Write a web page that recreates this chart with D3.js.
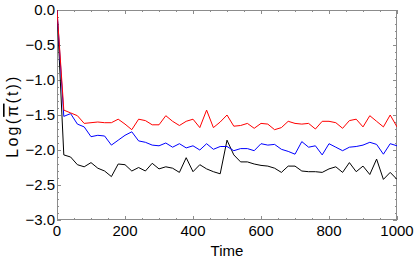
<!DOCTYPE html>
<html><head><meta charset="utf-8">
<script src="https://cdn.jsdelivr.net/npm/d3@7"></script>
<style>
body{margin:0;background:#fff}
svg{display:block}
text{font-family:"Liberation Sans",Arial,sans-serif;fill:#000}
</style>
</head><body>
<svg id="c" width="415" height="262"></svg>
<script>
const times = [0,20,40,60,80,100,120,140,160,180,200,220,240,260,280,300,320,340,360,380,400,
  420,440,460,480,500,520,540,560,580,600,620,640,660,680,700,720,740,760,780,800,
  820,840,860,880,900,920,940,960,980,1000];
const redVals = [0,-1.43,-1.47,-1.51,-1.62,-1.61,-1.60,-1.61,-1.61,-1.56,-1.63,-1.71,-1.56,-1.58,-1.64,-1.64,
  -1.51,-1.59,-1.65,-1.59,-1.56,-1.68,-1.43,-1.68,-1.60,-1.50,-1.66,-1.65,-1.62,-1.69,-1.62,
  -1.63,-1.71,-1.68,-1.59,-1.62,-1.63,-1.62,-1.70,-1.59,-1.59,-1.61,-1.69,-1.58,-1.56,-1.67,
  -1.51,-1.59,-1.67,-1.50,-1.67];
const blueVals = [0,-1.52,-1.48,-1.63,-1.67,-1.81,-1.79,-1.80,-1.93,-1.86,-1.79,-1.74,-1.87,-1.89,-1.93,-1.94,
  -1.90,-1.96,-1.91,-1.97,-1.94,-2.00,-1.91,-1.99,-1.95,-1.95,-2.01,-1.98,-1.98,-2.01,-1.91,
  -1.93,-1.92,-1.99,-2.02,-2.06,-1.88,-1.96,-1.94,-2.07,-1.91,-1.96,-2.01,-1.96,-1.95,-1.93,
  -1.89,-1.92,-2.06,-1.91,-1.94];
const blackVals = [0,-2.07,-2.10,-2.21,-2.24,-2.18,-2.26,-2.30,-2.38,-2.20,-2.21,-2.30,-2.25,-2.30,-2.19,-2.27,
  -2.24,-2.26,-2.32,-2.11,-2.31,-2.21,-2.27,-2.31,-2.34,-1.86,-2.07,-2.17,-2.17,-2.20,-2.22,
  -2.23,-2.26,-2.32,-2.23,-2.23,-2.30,-2.31,-2.31,-2.32,-2.27,-2.24,-2.32,-2.18,-2.31,-2.23,
  -2.35,-2.13,-2.42,-2.32,-2.42];
const xTicks = [0,200,400,600,800,1000];
const xTickLabels = ["0","200","400","600","800","1000"];
const yTicks = [0,-0.5,-1,-1.5,-2,-2.5,-3];
const yTickLabels = ["0.0","\u22120.5","\u22121.0","\u22121.5","\u22122.0","\u22122.5","\u22123.0"];
const seriesNames = ["black","blue","red"];
const seriesColors = ["#000000","#0000ff","#ff0000"];

const svg = d3.select("#c");
const L = 57, R = 397, T = 10, B = 220;
const x = d3.scaleLinear().domain([0,1000]).range([L,R]);
const y = d3.scaleLinear().domain([-3,0]).range([B,T]);
const frameCol = "#8c8c8c";

const xMinor = d3.range(0,1001,50);
const yMinor = d3.range(-30,1,1).map(d=>d/10);

function tickAxis(axisGen, transform, major, minor){
  const gMin = svg.append("g").attr("transform",transform)
    .call(axisGen.tickValues(minor).tickSize(2).tickFormat(""));
  gMin.select(".domain").remove();
  gMin.selectAll("line").attr("stroke",frameCol);
  const gMaj = svg.append("g").attr("transform",transform)
    .call(axisGen.tickValues(major).tickSize(4).tickFormat(""));
  gMaj.select(".domain").remove();
  gMaj.selectAll("line").attr("stroke",frameCol);
}
tickAxis(d3.axisTop(x), `translate(0,${B})`, xTicks, xMinor);
tickAxis(d3.axisBottom(x), `translate(0,${T})`, xTicks, xMinor);
tickAxis(d3.axisRight(y), `translate(${L},0)`, yTicks, yMinor);
tickAxis(d3.axisLeft(y), `translate(${R},0)`, yTicks, yMinor);

svg.append("rect").attr("x",L+0.5).attr("y",T+0.5).attr("width",R-L-1).attr("height",B-T-1)
  .attr("fill","none").attr("stroke",frameCol).attr("stroke-width",1);

svg.append("g").selectAll("text").data(xTicks).join("text")
  .attr("x",d=>x(d)).attr("y",B+16).attr("text-anchor","middle")
  .attr("font-size",15).text((d,i)=>xTickLabels[i]);
svg.append("g").selectAll("text").data(yTicks).join("text")
  .attr("x",L-2).attr("y",d=>y(d)+5.3).attr("text-anchor","end")
  .attr("font-size",15).text((d,i)=>yTickLabels[i]);

svg.append("text").attr("x",(L+R)/2).attr("y",256).attr("text-anchor","middle")
  .attr("font-size",15).text("Time");

const yl = svg.append("text").attr("transform",`translate(18,${(T+B)/2 + 1}) rotate(-90)`)
  .attr("text-anchor","middle").attr("font-size",16).attr("letter-spacing",2.2);
yl.append("tspan").text("Log(");
yl.append("tspan").attr("text-decoration","overline").text("\u03c0");
yl.append("tspan").text("(t))");

svg.append("clipPath").attr("id","pc").append("rect")
  .attr("x",L).attr("y",T).attr("width",R-L).attr("height",B-T);
const line = d3.line().x((d,i)=>x(times[i])).y(d=>y(d));
const data = [blackVals, blueVals, redVals];
svg.append("g").attr("clip-path","url(#pc)").selectAll("path").data(data).join("path")
  .attr("d",d=>line(d)).attr("fill","none")
  .attr("stroke",(d,i)=>seriesColors[i]).attr("stroke-width",1)
  .attr("stroke-linejoin","round");
</script>
</body></html>
